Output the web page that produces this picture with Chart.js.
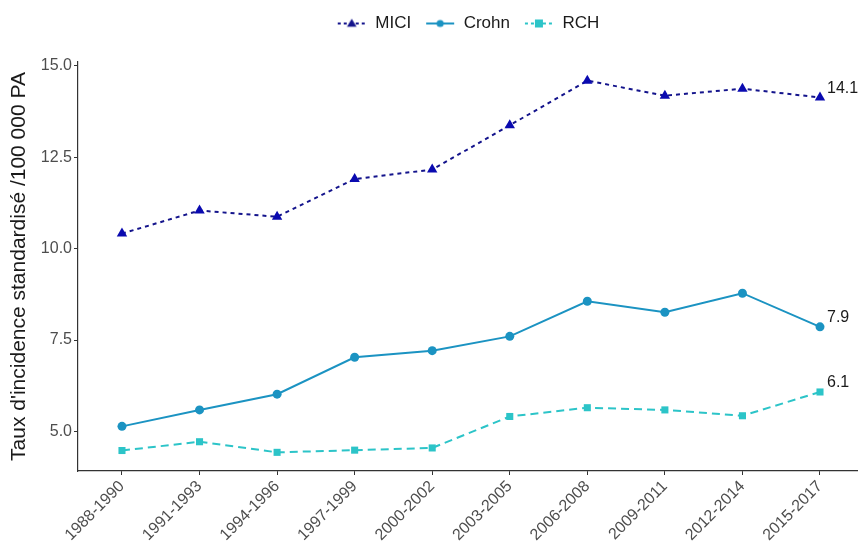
<!DOCTYPE html>
<html>
<head>
<meta charset="utf-8">
<script src="https://cdn.jsdelivr.net/npm/chart.js@4"></script>
<style>
  html, body { margin: 0; padding: 0; background: #fff; }
</style>
</head>
<body>
<canvas id="chart" width="858" height="549"></canvas>
<script>
const periods = ['1988-1990', '1991-1993', '1994-1996', '1997-1999', '2000-2002',
                 '2003-2005', '2006-2008', '2009-2011', '2012-2014', '2015-2017'];
const mici  = [10.41, 11.04, 10.87, 11.90, 12.16, 13.37, 14.59, 14.18, 14.37, 14.13];
const crohn = [5.14, 5.59, 6.02, 7.03, 7.21, 7.60, 8.56, 8.26, 8.78, 7.86];
const rch   = [4.48, 4.72, 4.43, 4.49, 4.55, 5.41, 5.65, 5.59, 5.43, 6.08];
const yTicks = [5.0, 7.5, 10.0, 12.5, 15.0];

const FONT = 'Liberation Sans, Arial, sans-serif';

function legendIcon(color, dash, style, r) {
  const c = document.createElement('canvas');
  c.width = 30; c.height = 14;
  const g = c.getContext('2d');
  g.strokeStyle = color; g.lineWidth = 2; g.setLineDash(dash);
  g.beginPath(); g.moveTo(1, 7); g.lineTo(29, 7); g.stroke();
  g.setLineDash([]);
  g.fillStyle = color;
  g.beginPath();
  if (style === 'triangle') {
    g.moveTo(15, 7 - r); g.lineTo(15 + r, 7 + r * 0.7); g.lineTo(15 - r, 7 + r * 0.7);
  } else if (style === 'rect') {
    g.rect(15 - r, 7 - r, 2 * r, 2 * r);
  } else {
    g.arc(15, 7, r, 0, Math.PI * 2);
  }
  g.fill();
  return c;
}

const toXY = vals => vals.map((v, i) => ({ x: i, y: v }));

const series = [
  { label: 'MICI', data: mici, color: '#14148c', point: '#0a0ab0', dash: [4, 4], style: 'triangle', r: 6 },
  { label: 'Crohn', data: crohn, color: '#1b93c2', point: '#1b93c2', dash: [], style: 'circle', r: 4.5 },
  { label: 'RCH', data: rch, color: '#2cc4c8', point: '#2cc4c8', dash: [8, 5], style: 'rect', r: 5 }
];

// centre the legend over the plot panel, as ggplot does, and lift it a bit
const panelLegend = {
  id: 'panelLegend',
  afterLayout(chart) {
    const lg = chart.legend;
    const w = lg.right - lg.left;
    const mid = (chart.chartArea.left + chart.chartArea.right) / 2;
    lg.left = mid - w / 2;
    lg.right = mid + w / 2;
    lg.top -= 20;
    lg.bottom -= 20;
  }
};

const endLabels = {
  id: 'endLabels',
  afterDatasetsDraw(chart) {
    const ctx = chart.ctx;
    ctx.save();
    ctx.font = '16px ' + FONT;
    ctx.fillStyle = '#1a1a1a';
    ctx.textBaseline = 'middle';
    ctx.textAlign = 'left';
    chart.data.datasets.forEach((ds, i) => {
      const meta = chart.getDatasetMeta(i);
      const pt = meta.data[meta.data.length - 1];
      const v = ds.data[ds.data.length - 1].y;
      ctx.fillText(v.toFixed(1), pt.x + 7, pt.y - 9);
    });
    ctx.restore();
  }
};

new Chart(document.getElementById('chart'), {
  type: 'line',
  data: {
    datasets: series.map(s => ({
      label: s.label,
      data: toXY(s.data),
      borderColor: s.color,
      backgroundColor: s.point,
      borderWidth: 2,
      borderDash: s.dash,
      pointStyle: s.style,
      pointRadius: s.r,
      pointBackgroundColor: s.point,
      pointBorderColor: s.point,
      pointBorderWidth: 0,
      tension: 0,
      clip: false
    }))
  },
  options: {
    responsive: false,
    animation: false,
    layout: { autoPadding: false, padding: { top: 21, right: 0, left: 4, bottom: 0 } },
    plugins: {
      tooltip: { enabled: false },
      legend: {
        position: 'top',
        labels: {
          usePointStyle: true,
          pointStyleWidth: 30,
          padding: 14,
          color: '#1a1a1a',
          font: { family: FONT, size: 17 },
          generateLabels(chart) {
            return series.map((s, i) => ({
              text: s.label,
              pointStyle: legendIcon(s.color, s.dash.length ? [3, 3] : [], s.style, s.r * 0.8),
              datasetIndex: i,
              fontColor: '#1a1a1a',
              lineWidth: 0
            }));
          }
        }
      }
    },
    scales: {
      x: {
        type: 'linear',
        min: -0.567,
        max: 9.49,
        afterBuildTicks: axis => { axis.ticks = periods.map((_, i) => ({ value: i })); },
        afterFit: axis => { axis.height = 78; axis.paddingLeft = 0; axis.paddingRight = 0; },
        border: { color: '#333', width: 1.2 },
        grid: { drawOnChartArea: false, drawTicks: true, tickLength: 4, color: '#333' },
        ticks: {
          autoSkip: false,
          minRotation: 45,
          maxRotation: 45,
          padding: 2,
          color: '#4d4d4d',
          font: { family: FONT, size: 16 },
          callback: v => periods[v]
        }
      },
      y: {
        min: 3.92,
        max: 15.1,
        afterBuildTicks: axis => { axis.ticks = yTicks.map(v => ({ value: v })); },
        afterFit: axis => { axis.width = 74; },
        border: { color: '#333', width: 1.2 },
        grid: { drawOnChartArea: false, drawTicks: true, tickLength: 4, color: '#333' },
        ticks: {
          padding: 2,
          color: '#4d4d4d',
          font: { family: FONT, size: 16 },
          callback: v => v.toFixed(1)
        },
        title: {
          display: true,
          text: "Taux d'incidence standardisé /100 000 PA",
          color: '#1a1a1a',
          font: { family: FONT, size: 21 },
          padding: { top: 3, bottom: 3 }
        }
      }
    }
  },
  plugins: [panelLegend, endLabels]
});
</script>
</body>
</html>
